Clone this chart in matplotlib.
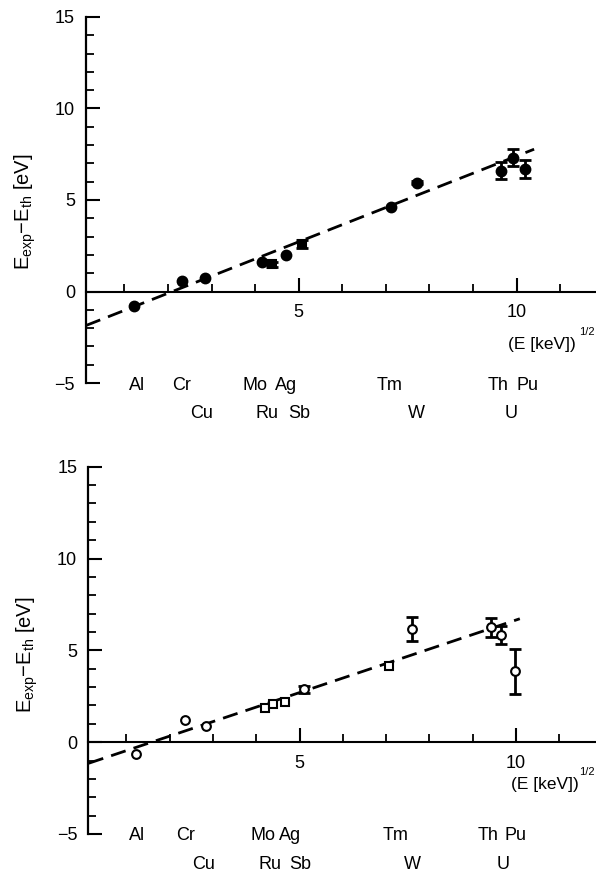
import numpy as np
import matplotlib
matplotlib.use('Agg')
import matplotlib.pyplot as plt
from matplotlib.ticker import FixedLocator, MultipleLocator

plt.rcParams['font.family'] = ['Liberation Sans', 'DejaVu Sans']
plt.rcParams['mathtext.default'] = 'regular'

# ---------------- data ----------------
elements = ['Al', 'Cr', 'Cu', 'Mo', 'Ru', 'Ag', 'Sb', 'Tm', 'W', 'Th', 'U', 'Pu']
label_row = [0, 0, 1, 0, 1, 0, 1, 0, 1, 0, 1, 0]

# upper panel (filled symbols)
top_x = [1.22, 2.33, 2.84, 4.15, 4.38, 4.71, 5.07, 7.12, 7.71, 9.63, 9.92, 10.19]
top_y = [-0.80, 0.57, 0.72, 1.59, 1.48, 1.98, 2.60, 4.60, 5.95, 6.60, 7.32, 6.68]
top_err = [0, 0, 0, 0, 0.13, 0, 0.22, 0, 0.08, 0.45, 0.45, 0.50]
top_marker = ['o', 'o', 'o', 'o', 's', 'o', 's', 'o', 'o', 'o', 'o', 'o']
top_label_x = [1.28, 2.32, 2.78, 4.00, 4.27, 4.72, 5.00, 7.09, 7.71, 9.57, 9.88, 10.26]
top_fit = (0.937, -1.97)        # slope, intercept
top_fit_range = (0.12, 10.40)

# lower panel (open symbols)
bot_x = [1.22, 2.36, 2.84, 4.21, 4.39, 4.67, 5.11, 7.07, 7.60, 9.42, 9.66, 9.97]
bot_y = [-0.65, 1.20, 0.90, 1.84, 2.08, 2.18, 2.88, 4.15, 6.15, 6.25, 5.82, 3.85]
bot_err = [0, 0, 0, 0, 0, 0, 0.20, 0, 0.65, 0.50, 0.50, 1.20]
bot_marker = ['o', 'o', 'o', 's', 's', 's', 'o', 's', 'o', 'o', 'o', 'o']
bot_label_x = [1.24, 2.36, 2.79, 4.16, 4.32, 4.78, 5.01, 7.21, 7.62, 9.36, 9.71, 9.98]
bot_fit = (0.79, -1.25)
bot_fit_range = (0.13, 10.09)

W, H = 596, 873
fig = plt.figure(figsize=(W / 100, H / 100), dpi=100)

ax1 = fig.add_axes([86 / W, 1 - 383 / H, 1 - 86 / W, (383 - 17) / H])
ax2 = fig.add_axes([88.3 / W, 1 - 834 / H, 1 - 88.3 / W, (834 - 466.7) / H])


def style(ax, xmax):
    ax.set_xlim(0.12, xmax)
    ax.set_ylim(-5, 15)
    for s in ('top', 'right'):
        ax.spines[s].set_visible(False)
    ax.spines['bottom'].set_position(('data', 0))
    ax.spines['bottom'].set_linewidth(1.5)
    ax.spines['left'].set_linewidth(1.6)
    ax.yaxis.set_major_locator(MultipleLocator(5))
    ax.yaxis.set_minor_locator(MultipleLocator(1))
    ax.xaxis.set_major_locator(FixedLocator([5, 10]))
    ax.xaxis.set_minor_locator(FixedLocator([1, 2, 3, 4, 6, 7, 8, 9, 11]))
    ax.tick_params(axis='both', which='major', direction='in', length=10,
                   width=1.5, labelsize=13)
    ax.tick_params(axis='both', which='minor', direction='in', length=5.5,
                   width=1.3)
    ax.tick_params(axis='y', which='major', pad=8)
    ax.tick_params(axis='x', which='major', pad=9)


def draw(ax, xs, ys, errs, markers, filled, fit, fit_range):
    sl, ic = fit
    fx = np.array(fit_range)
    ax.plot(fx, sl * fx + ic, color='black', lw=2.0, dashes=(5.5, 3.0),
            zorder=2)
    for x, y, e, m in zip(xs, ys, errs, markers):
        if filled:
            ms = 7.0 if m == 'o' else 5.3
            face = 'black'
        else:
            ms = 6.3 if m == 'o' else 5.8
            face = 'white'
        if e > 0:
            ax.errorbar([x], [y], yerr=[e], fmt='none', ecolor='black',
                        elinewidth=2.0, capsize=4.0, capthick=2.0, zorder=3)
        ax.plot([x], [y], marker=m, ms=ms, mfc=face, mec='black', mew=1.5,
                ls='none', zorder=4)


style(ax1, 11.82)
style(ax2, 11.85)
draw(ax1, top_x, top_y, top_err, top_marker, True, top_fit, top_fit_range)
draw(ax2, bot_x, bot_y, bot_err, bot_marker, False, bot_fit, bot_fit_range)

# element labels
for ax, lx, rows_y in ((ax1, top_label_x, (-5.15, -6.68)),
                       (ax2, bot_label_x, (-5.08, -6.65))):
    for name, x, r in zip(elements, lx, label_row):
        ax.text(x, rows_y[r], name, ha='center', va='center', fontsize=13,
                clip_on=False)

# x-axis unit labels
ax1.text(10.58, -2.9, '(E [keV])', ha='center', va='center', fontsize=12.5)
ax1.text(11.62, -2.2, '1/2', ha='center', va='center', fontsize=8)
ax2.text(10.67, -2.31, '(E [keV])', ha='center', va='center', fontsize=12.5)
ax2.text(11.64, -1.63, '1/2', ha='center', va='center', fontsize=8)

ylab = r'E$_{exp}$$-$E$_{th}$ [eV]'
fig.text(25 / W, 1 - 212 / H, ylab, rotation=90, ha='center', va='center',
         fontsize=14.5)
fig.text(27 / W, 1 - 655 / H, ylab, rotation=90, ha='center', va='center',
         fontsize=14.5)

fig.savefig('out.png', dpi=100)
